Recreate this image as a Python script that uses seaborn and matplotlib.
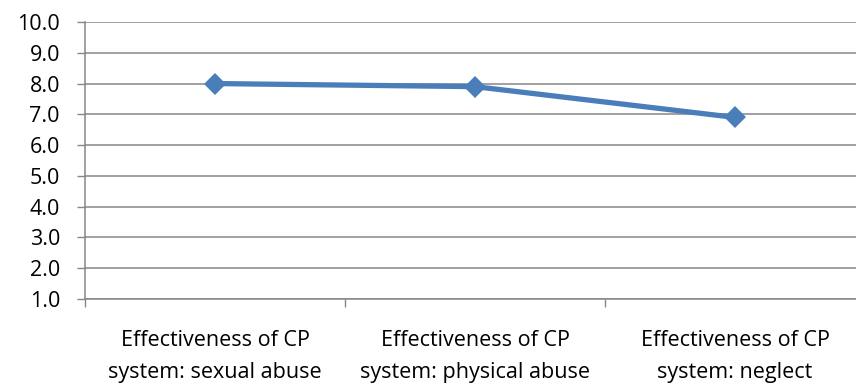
import matplotlib
matplotlib.use("Agg")
import matplotlib.pyplot as plt
import seaborn as sns
import pandas as pd

categories = ["Effectiveness of CP\nsystem: sexual abuse",
              "Effectiveness of CP\nsystem: physical abuse",
              "Effectiveness of CP\nsystem: neglect"]
values = [8.0, 7.9, 6.9]
y_ticks = [1.0, 2.0, 3.0, 4.0, 5.0, 6.0, 7.0, 8.0, 9.0, 10.0]

sns.set_theme(style="white")
plt.rcParams['font.family'] = ['Open Sans', 'DejaVu Sans']

fig = plt.figure(figsize=(8.56, 3.87), dpi=100)
ax = fig.add_axes([85/856, 1-299/387, 780/856, (299-22)/387])

df = pd.DataFrame({"cat": categories, "val": values, "pos": range(len(categories))})
sns.lineplot(data=df, x="pos", y="val", ax=ax, color="#4A7EBB", linewidth=3.8,
             marker="D", markersize=11, markeredgewidth=0, sort=False)

ax.set_xlim(-0.5, len(categories) - 0.5)
ax.set_ylim(1.0, 10.0)
ax.set_yticks(y_ticks)
ax.set_yticklabels([f"{v:.1f}" for v in y_ticks], fontsize=15.5, color="black")
ax.grid(axis="y", color="#868686", linewidth=1.1)
ax.grid(axis="x", visible=False)
ax.set_axisbelow(True)

ax.set_xticks([i - 0.5 for i in range(len(categories) + 1)])
ax.set_xticklabels([])
ax.set_xticks(list(range(len(categories))), minor=True)
ax.set_xticklabels(categories, minor=True, fontsize=15.5, linespacing=1.65, color="black")
ax.tick_params(axis="x", which="major", length=6, color="#868686", width=1, direction="out", bottom=True)
ax.tick_params(axis="x", which="minor", length=0, pad=22.5)
ax.tick_params(axis="y", length=6, color="#868686", width=1, direction="out", left=True, pad=12)

for s in ["top", "right"]:
    ax.spines[s].set_visible(False)
ax.spines["left"].set_color("#868686")
ax.spines["bottom"].set_color("#868686")
ax.spines["left"].set_linewidth(1.1)
ax.spines["bottom"].set_linewidth(1.1)
ax.set_xlabel("")
ax.set_ylabel("")

fig.savefig("out.png", dpi=100)
